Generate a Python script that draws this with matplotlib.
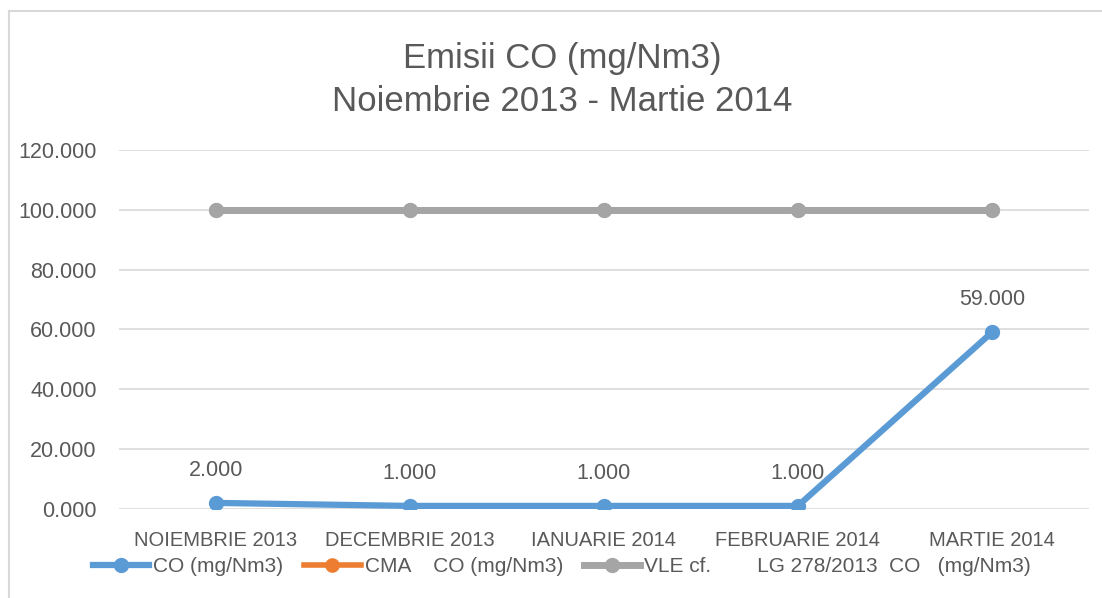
import matplotlib
matplotlib.use("Agg")
import matplotlib.pyplot as plt
from matplotlib.lines import Line2D
from matplotlib.ticker import FuncFormatter

plt.rcParams['font.family'] = ['Liberation Sans', 'DejaVu Sans']

months = ["NOIEMBRIE 2013", "DECEMBRIE 2013", "IANUARIE 2014", "FEBRUARIE 2014", "MARTIE 2014"]
co_values = [2, 1, 1, 1, 59]
cma_values = [100, 100, 100, 100, 100]
vle_values = [100, 100, 100, 100, 100]
series_names = ["CO (mg/Nm3)", "CMA    CO (mg/Nm3)", "VLE cf.        LG 278/2013  CO   (mg/Nm3)"]

text_col = "#595959"
blue = "#5B9BD5"
orange = "#ED7D31"
gray = "#A5A5A5"

fig = plt.figure(figsize=(11.02, 5.98), dpi=100)
ax = fig.add_axes([0.108, 0.149, 0.880, 0.600])

x = list(range(len(months)))
ax.plot(x, cma_values, color=orange, lw=4, marker='o', ms=9.5, label=series_names[1], zorder=3)
ax.plot(x, vle_values, color=gray, lw=5, marker='o', ms=10, mec=gray, label=series_names[2], zorder=4)
ax.plot(x, co_values, color=blue, lw=4.5, marker='o', ms=10, label=series_names[0], zorder=5)

for xi, v in zip(x, co_values):
    ax.annotate("{:.3f}".format(v), (xi, v), xytext=(0, 16), textcoords='offset points',
                ha='center', va='bottom', fontsize=15.5, color=text_col, zorder=6)

ax.set_xlim(-0.5, len(months) - 0.5)
ax.set_ylim(0, 120)
ax.set_yticks(range(0, 121, 20))
ax.yaxis.set_major_formatter(FuncFormatter(lambda v, p: "{:.3f}".format(v)))
ax.set_xticks(x)
ax.set_xticklabels(months)
ax.tick_params(axis='both', length=0, colors=text_col)
ax.tick_params(axis='x', pad=16, labelsize=14.5)
ax.tick_params(axis='y', pad=16, labelsize=15.5)
ax.grid(axis='y', color="#D9D9D9", lw=1.2)
ax.set_axisbelow(True)
for s in ax.spines.values():
    s.set_visible(False)

fig.text(0.51, 0.903, "Emisii CO (mg/Nm3)", ha='center', va='center', fontsize=25, color=text_col)
fig.text(0.51, 0.831, "Noiembrie 2013 - Martie 2014", ha='center', va='center', fontsize=25, color=text_col)

handles, labels = ax.get_legend_handles_labels()
order = [2, 0, 1]
fig.legend([handles[i] for i in order], [labels[i] for i in order], loc='center',
           bbox_to_anchor=(0.51, 0.052), ncol=3, frameon=False, fontsize=15,
           labelcolor=text_col, handlelength=2.7, columnspacing=1.0, handletextpad=0.2)

# chart border
fig.add_artist(Line2D([0.0086, 0.0086], [0, 0.982], color="#D9D9D9", lw=1.5))
fig.add_artist(Line2D([0.0086, 1], [0.982, 0.982], color="#D9D9D9", lw=1.5))

fig.savefig("out.png", dpi=100)
